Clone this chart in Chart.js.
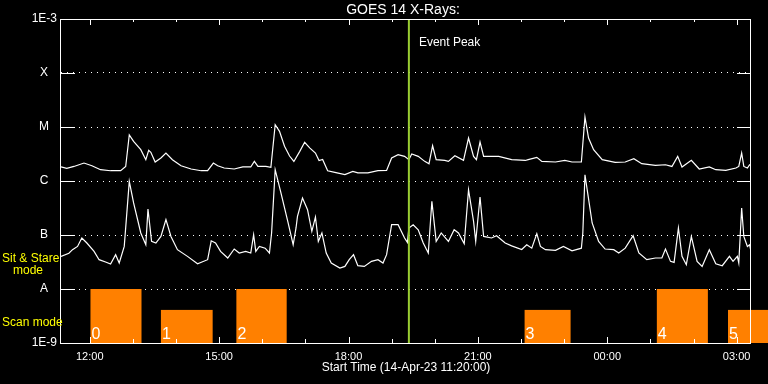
<!DOCTYPE html>
<html>
<head>
<meta charset="utf-8">
<title>GOES 14 X-Rays</title>
<script src="https://cdn.jsdelivr.net/npm/chart.js@4.4.0/dist/chart.umd.min.js"></script>
<style>
  html, body { margin: 0; padding: 0; background: #000; }
</style>
</head>
<body>
<canvas id="goes_chart" width="768" height="384"></canvas>
<script>
// times are minutes after the start time, 14-Apr-23 11:20:00
var longTime = [0, 8, 18, 32, 43, 55, 69, 83, 90, 95, 101, 111, 118, 122, 125, 131, 139, 146, 155, 167,
  181, 195, 204, 212, 218, 227, 241, 253, 264, 269, 274, 285, 292, 298, 304, 311, 318, 324, 332, 339,
  346, 354, 359, 364, 371, 381, 395, 406, 413, 427, 441, 453, 460, 469, 478, 484, 488, 497, 506, 512,
  517, 522, 534, 539, 548, 560, 567, 574, 578, 583, 588, 609, 627, 646, 650, 662, 669, 688, 701, 711,
  724, 729, 734, 741, 753, 771, 785, 797, 808, 827, 841, 850, 858, 864, 877, 888, 902, 911, 925, 939,
  943, 947, 950, 955, 958, 960]
var longFlux = [1.82e-6, 1.71e-6, 1.86e-6, 2.15e-6, 1.92e-6, 1.62e-6, 1.55e-6, 1.55e-6, 1.86e-6, 7.1e-6,
  5.4e-6, 3.8e-6, 2.48e-6, 3.69e-6, 3.39e-6, 2.25e-6, 2.67e-6, 3.3e-6, 2.48e-6, 1.92e-6,
  1.67e-6, 1.55e-6, 1.55e-6, 2.15e-6, 1.92e-6, 1.74e-6, 1.67e-6, 1.82e-6, 1.82e-6, 2.31e-6,
  1.86e-6, 1.86e-6, 1.79e-6, 1.1e-5, 8.3e-6, 4.4e-6, 2.9e-6, 2.3e-6, 3.5e-6, 5.2e-6,
  4.1e-6, 3.3e-6, 2.4e-6, 2.5e-6, 1.55e-6, 1.44e-6, 1.31e-6, 1.51e-6, 1.41e-6, 1.41e-6,
  1.55e-6, 1.57e-6, 2.67e-6, 3.07e-6, 2.86e-6, 2.48e-6, 3.16e-6, 2.86e-6, 2.31e-6, 2.09e-6,
  4.5e-6, 2.48e-6, 2.41e-6, 2.31e-6, 2.94e-6, 2.41e-6, 6.25e-6, 2.86e-6, 2.48e-6, 5.27e-6,
  2.86e-6, 2.86e-6, 2.48e-6, 2.4e-6, 2.48e-6, 2.74e-6, 2.31e-6, 2.25e-6, 2.41e-6, 2.25e-6,
  2.25e-6, 1.53e-5, 6.25e-6, 3.8e-6, 2.48e-6, 2.21e-6, 2.25e-6, 2.59e-6, 2.09e-6, 1.95e-6,
  2.0e-6, 1.86e-6, 2.86e-6, 1.82e-6, 2.41e-6, 1.67e-6, 1.82e-6, 1.62e-6, 1.57e-6, 1.74e-6,
  1.86e-6, 3.3e-6, 1.86e-6, 1.74e-6, 2.0e-6, 1.92e-6]

var shortTime = [0, 11, 16, 23, 29, 36, 46, 53, 62, 69, 76, 81, 88, 95, 101, 111, 118, 121, 126, 132,
  139, 146, 153, 162, 176, 190, 204, 209, 215, 222, 232, 241, 248, 257, 264, 268, 271, 276, 284, 290,
  293, 298, 306, 316, 323, 327, 329, 336, 343, 349, 354, 358, 363, 369, 376, 388, 395, 401, 407, 413,
  422, 432, 441, 448, 453, 460, 469, 478, 482, 484, 490, 497, 504, 511, 516, 522, 529, 539, 547, 553,
  561, 567, 574, 577, 583, 588, 599, 606, 618, 627, 641, 648, 655, 662, 667, 674, 688, 699, 711, 724,
  726, 729, 739, 748, 757, 769, 776, 785, 796, 804, 815, 827, 836, 841, 848, 853, 859, 864, 870, 877,
  885, 892, 902, 911, 920, 930, 935, 941, 943, 947, 950, 955, 958, 960]
var shortFlux = [4.0e-8, 4.6e-8, 5.35e-8, 6.15e-8, 8.8e-8, 7.1e-8, 4.97e-8, 3.49e-8, 3.16e-8, 2.9e-8,
  4.32e-8, 3.03e-8, 6.15e-8, 9.8e-7, 3.92e-7, 1.09e-7, 6.6e-8, 3.03e-7, 7.6e-8, 7.1e-8,
  9.4e-8, 1.92e-7, 9.4e-8, 5.35e-8, 4.02e-8, 2.94e-8, 3.49e-8, 7.8e-8, 7.1e-8, 4.97e-8,
  3.75e-8, 5.5e-8, 4.64e-8, 4.97e-8, 4.64e-8, 1.01e-7, 4.97e-8, 6.15e-8, 5.7e-8, 4.64e-8,
  1.09e-7, 1.62e-6, 6.0e-7, 1.67e-7, 6.6e-8, 1.35e-7, 2.21e-7, 4.84e-7, 2.94e-7, 1.17e-7,
  2.15e-7, 7.6e-8, 1.09e-7, 4.64e-8, 3.03e-8, 2.45e-8, 2.62e-8, 3.49e-8, 4.32e-8, 2.7e-8,
  2.62e-8, 3.25e-8, 3.49e-8, 3.03e-8, 4.32e-8, 1.55e-7, 1.55e-7, 8.8e-8, 7.3e-8, 1.35e-7,
  1.55e-7, 1.25e-7, 7.1e-8, 4.64e-8, 4.19e-7, 7.6e-8, 1.09e-7, 7.6e-8, 1.25e-7, 1.09e-7,
  6.9e-8, 6.9e-7, 1.79e-7, 7.6e-8, 5.06e-7, 9.4e-8, 8.8e-8, 9.7e-8, 7.1e-8, 6.3e-8,
  5.4e-8, 6.6e-8, 5.7e-8, 1.06e-7, 6.15e-8, 5.35e-8, 5.2e-8, 6.15e-8, 5.1e-8, 5.7e-8,
  1.09e-7, 1.3e-6, 1.67e-7, 7.6e-8, 5.5e-8, 5.35e-8, 4.64e-8, 5.7e-8, 9.7e-8, 4.64e-8,
  3.49e-8, 3.75e-8, 3.75e-8, 5.5e-8, 3.25e-8, 3.11e-8, 1.35e-7, 4.02e-8, 2.82e-8, 9.4e-8,
  3.25e-8, 2.62e-8, 5.35e-8, 2.94e-8, 2.7e-8, 4.02e-8, 3.25e-8, 4.02e-8, 3.03e-8, 3.16e-7,
  9.4e-8, 6.15e-8, 6.6e-8, 4.97e-8]

var peakTime = 484

// instrument modes (orange blocks along the bottom)
var scanStart = [41, 139, 244, 645, 829, 928]
var scanEnd = [112, 211, 314, 709, 900, 987]
var scanTop = [1e-8, 4.1e-9, 1e-8, 4.1e-9, 1e-8, 4.1e-9]
var scanNames = ["0", "1", "2", "3", "4", "5"]

var yTickValues = [1e-9, 1e-8, 1e-7, 1e-6, 1e-5, 1e-4, 1e-3]
var yTickLabels = ["1E-9", "A", "B", "C", "M", "X", "1E-3"]
var xTickValues = [40, 220, 400, 580, 760, 940]
var xTickLabels = ["12:00", "15:00", "18:00", "21:00", "00:00", "03:00"]

Chart.defaults.font.family = '"Liberation Sans", sans-serif'

function pairs(t, f) {
  return t.map((v, i) => ({x: v, y: f[i]}))
}

const goesDecor = {
  id: "goesDecor",
  beforeDatasetsDraw(chart) {
    const {ctx, scales: {x, y}} = chart
    const yb = y.getPixelForValue(1e-9)
    ctx.save()
    ctx.font = '16px "Liberation Sans"'
    ctx.textAlign = "left"
    ctx.textBaseline = "alphabetic"
    for (let i = 0; i < scanStart.length; i++) {
      const x0 = x.getPixelForValue(scanStart[i])
      const x1 = x.getPixelForValue(scanEnd[i])
      const y0 = y.getPixelForValue(scanTop[i])
      ctx.fillStyle = "#ff8000"
      ctx.fillRect(x0, y0, x1 - x0, yb - y0)
      ctx.fillStyle = "#fff"
      ctx.fillText(scanNames[i], x0 + 1, yb - 4)
    }
    ctx.restore()
  },
  afterDraw(chart) {
    const {ctx, chartArea: a, scales: {x, y}} = chart
    ctx.save()
    ctx.strokeStyle = "#fff"
    ctx.lineWidth = 1
    ctx.strokeRect(a.left - 0.5, a.top + 0.5, a.right - a.left, a.bottom - a.top)

    // inner tick marks
    ctx.beginPath()
    y.ticks.forEach(t => {
      const py = Math.round(y.getPixelForValue(t.value)) + 0.5
      ctx.moveTo(a.left, py); ctx.lineTo(a.left + 14, py)
      ctx.moveTo(a.right - 14, py); ctx.lineTo(a.right, py)
    })
    x.ticks.forEach(t => {
      const px = Math.round(x.getPixelForValue(t.value)) + 0.5
      const major = xTickValues.indexOf(t.value) >= 0
      ctx.moveTo(px, a.top); ctx.lineTo(px, a.top + (major ? 6 : 3))
      ctx.moveTo(px, a.bottom); ctx.lineTo(px, a.bottom - (major ? 6 : 4))
    })
    ctx.stroke()

    ctx.fillStyle = "#fff"
    ctx.font = '12px "Liberation Sans"'
    ctx.textBaseline = "middle"
    yTickValues.forEach((v, i) => {
      const py = y.getPixelForValue(v)
      if (yTickLabels[i].startsWith("1E")) {
        ctx.textAlign = "right"
        ctx.fillText(yTickLabels[i], a.left - 4, py)
      } else {
        ctx.textAlign = "center"
        ctx.fillText(yTickLabels[i], a.left - 17, py)
      }
    })

    ctx.textAlign = "left"
    ctx.fillText("Event Peak", x.getPixelForValue(peakTime) + 10, a.top + 24)

    ctx.textAlign = "center"
    ctx.font = '14px "Liberation Sans"'
    ctx.fillText("GOES 14 X-Rays:", (a.left + a.right) / 2 - 3, 10)

    ctx.fillStyle = "#ffff00"
    ctx.font = '12px "Liberation Sans"'
    ctx.textAlign = "left"
    ctx.fillText("Sit & Stare", 2, 259)
    ctx.fillText("mode", 13, 271)
    ctx.fillText("Scan mode", 2, 323)
    ctx.restore()
  }
}

var ctx = document.getElementById("goes_chart").getContext("2d")
var goesChart = new Chart(ctx, {
  type: "line",
  data: {
    datasets: [
      {
        label: "Event Peak",
        data: [{x: peakTime, y: 1e-3}, {x: peakTime, y: 1e-9}],
        borderColor: "#9acd32",
        borderWidth: 2
      },
      {
        label: "1-8 A",
        data: pairs(longTime, longFlux),
        borderColor: "#ffffff",
        borderWidth: 1.2
      },
      {
        label: "0.5-4 A",
        data: pairs(shortTime, shortFlux),
        borderColor: "#ffffff",
        borderWidth: 1.2
      }
    ]
  },
  options: {
    responsive: false,
    animation: false,
    layout: {padding: {top: 19, right: 17, left: 0, bottom: 0}},
    elements: {point: {radius: 0}, line: {tension: 0}},
    plugins: {
      legend: {display: false},
      title: {display: false},
      tooltip: {enabled: false}
    },
    scales: {
      x: {
        type: "linear",
        min: 0,
        max: 960,
        afterBuildTicks: s => {
          const t = []
          for (let m = 40; m <= 960; m += 60) t.push({value: m})
          s.ticks = t
        },
        afterFit: s => { s.height = 41 },
        grid: {display: false, drawTicks: false},
        border: {display: false},
        ticks: {
          color: "#fff",
          font: {size: 11},
          padding: 7,
          autoSkip: false,
          maxRotation: 0,
          callback: v => {
            const k = xTickValues.indexOf(v)
            return k < 0 ? "" : xTickLabels[k]
          }
        },
        title: {
          display: true,
          text: "Start Time (14-Apr-23 11:20:00)",
          color: "#fff",
          font: {size: 12},
          padding: {top: 0, bottom: 9}
        }
      },
      y: {
        type: "logarithmic",
        min: 1e-9,
        max: 1e-3,
        afterBuildTicks: s => { s.ticks = yTickValues.map(v => ({value: v})) },
        afterFit: s => { s.width = 61 },
        ticks: {display: false},
        grid: {color: "#fff", lineWidth: 1, drawTicks: false},
        border: {display: false, dash: [1, 5]}
      }
    }
  },
  plugins: [goesDecor]
})
</script>
</body>
</html>
